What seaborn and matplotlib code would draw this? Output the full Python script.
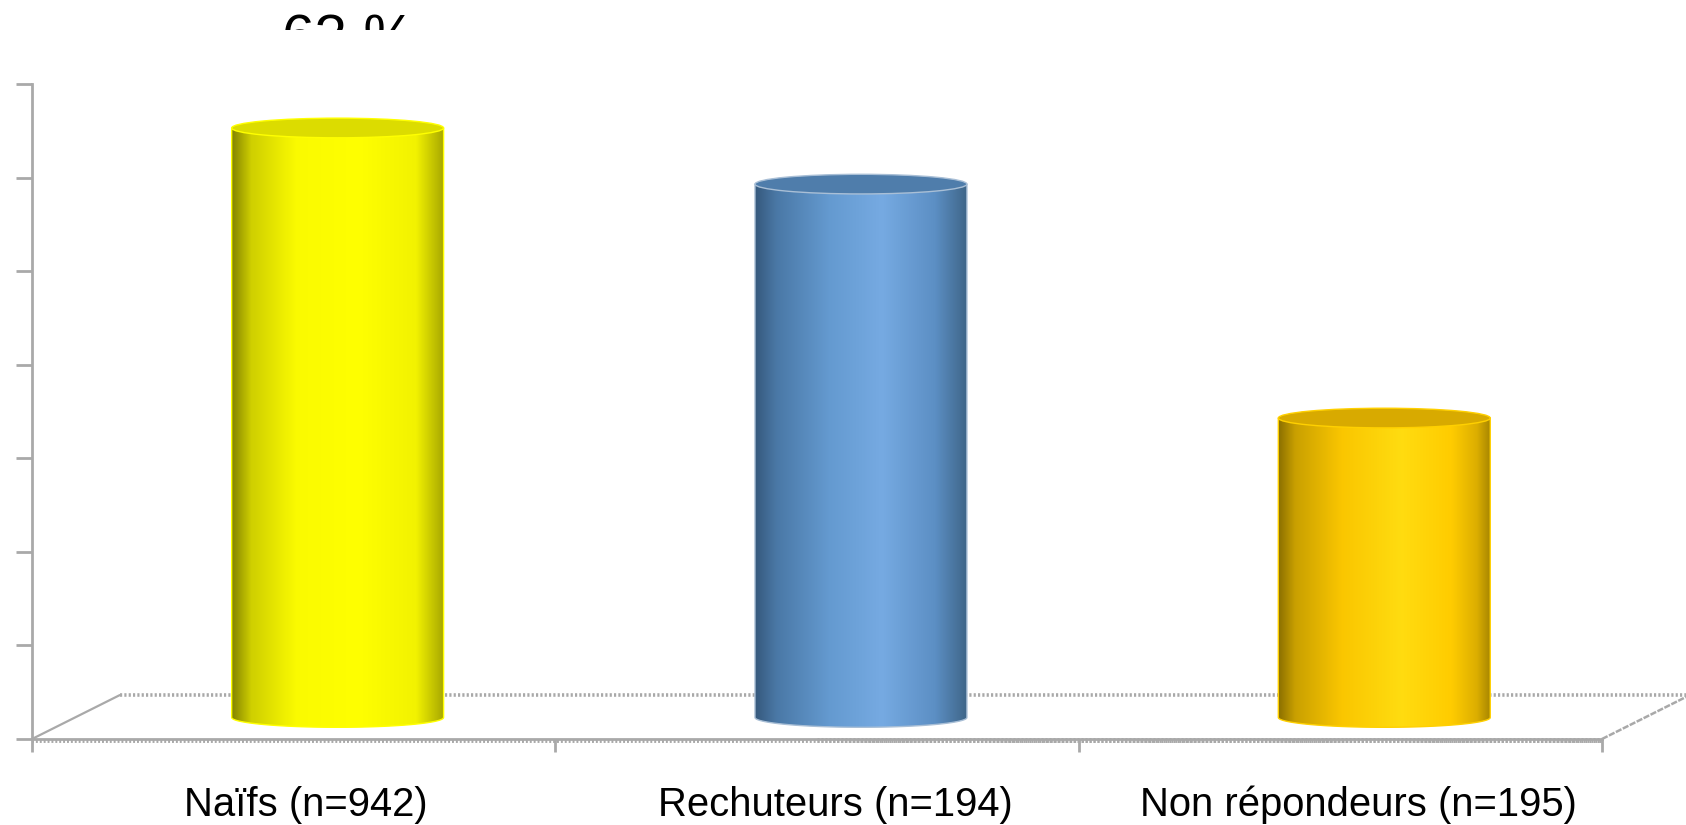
import numpy as np
import pandas as pd
import matplotlib
matplotlib.use("Agg")
import matplotlib.pyplot as plt
import seaborn as sns
from matplotlib.colors import LinearSegmentedColormap
from matplotlib.patches import Ellipse, PathPatch, Rectangle
from matplotlib.path import Path

groups = ["Naïfs (n=942)", "Rechuteurs (n=194)", "Non répondeurs (n=195)"]
percent = [63, 57, 32]
side_ramps = [
    [(0, "#858500"), (0.09, "#cfcf00"), (0.3, "#fafa00"), (0.6, "#ffff00"), (0.87, "#f2f200"), (1, "#a8a800")],
    [(0, "#36597c"), (0.1, "#4a78a6"), (0.35, "#649ad0"), (0.6, "#76aae2"), (0.85, "#5c8fc4"), (1, "#3f6689")],
    [(0, "#8a6f00"), (0.08, "#c9a000"), (0.3, "#fac600"), (0.58, "#ffdc10"), (0.82, "#ffcc00"), (0.94, "#dcae00"), (1, "#aa8800")],
]
cap_colors = ["#dcdc00", "#4f7dab", "#d8aa00"]
rim_colors = ["#ffff00", "#a9bfd6", "#ffd000"]
value_ticks = list(range(0, 80, 10))

GREY = "#a9a9a9"
FLOOR_DX, FLOOR_DY = 0.168, 4.7
BAR_DX, BAR_DY = FLOOR_DX / 2, 2.3
BAR_WIDTH = 0.405
CAP_HEIGHT = 2.1

sns.set_style("white")
plt.rcParams["font.family"] = ["Liberation Sans", "DejaVu Sans"]

W, H = 1686, 825
fig = plt.figure(figsize=(W / 100, H / 100), dpi=100)
ax = fig.add_axes([32 / W, 1 - 739 / H, (1602 - 32) / W, (739 - 84) / H])

frame = pd.DataFrame({"group": groups, "percent": percent})
sns.barplot(data=frame, x="group", y="percent", hue="group", palette=cap_colors,
            width=BAR_WIDTH, legend=False, dodge=False, ax=ax, zorder=3)

XLIM, YLIM = (-0.5, 2.5), (0, 70)

# Cylinder sides: a horizontal shading ramp clipped to the outline of each bar.
theta = np.linspace(np.pi, 2 * np.pi, 60)
for i, (bar, value) in enumerate(zip(ax.patches, percent)):
    left = bar.get_x() + BAR_DX
    bar.set_x(left)
    bar.set_y(BAR_DY)
    bar.set_visible(False)
    right = left + BAR_WIDTH
    mid = (left + right) / 2
    top = value + BAR_DY

    xs = mid + BAR_WIDTH / 2 * np.cos(theta)
    ys = BAR_DY + CAP_HEIGHT / 2 * np.sin(theta)
    outline = np.column_stack([np.r_[xs, right, left, left], np.r_[ys, top, top, ys[0]]])
    codes = [Path.MOVETO] + [Path.LINETO] * (len(outline) - 2) + [Path.CLOSEPOLY]
    shape = Path(outline, codes)

    cmap = LinearSegmentedColormap.from_list(f"side{i}", side_ramps[i])
    img = ax.imshow(np.linspace(0, 1, 256)[None, :], cmap=cmap, aspect="auto",
                    extent=(left, right, BAR_DY - CAP_HEIGHT, top), zorder=3)
    img.set_clip_path(PathPatch(shape, transform=ax.transData, fc="none", ec="none"))
    ax.add_patch(PathPatch(shape, fc="none", ec=rim_colors[i], lw=1.0, zorder=3.5))

    ax.add_patch(Ellipse((mid, top), BAR_WIDTH, CAP_HEIGHT, fc=cap_colors[i],
                         ec=rim_colors[i], lw=1.0, zorder=4))

ax.set_xlim(XLIM)
ax.set_ylim(YLIM)

# Floor of the 3D box, drawn behind the cylinders.
x0, x1 = XLIM
floor_style = dict(color=GREY, clip_on=False, zorder=1)
ax.plot([x0 + FLOOR_DX, x1 + FLOOR_DX], [FLOOR_DY, FLOOR_DY], lw=2.6,
        ls=(0, (0.6, 0.6)), **floor_style)
ax.plot([x0, x0 + FLOOR_DX], [0, FLOOR_DY], lw=1.6, **floor_style)
ax.plot([x1, x1 + FLOOR_DX], [0, FLOOR_DY], lw=1.8, ls=(0, (2.5, 0.6)), **floor_style)
ax.plot([x0, x1], [-0.22, -0.22], lw=2.8, ls=(0, (0.5, 0.5)), **floor_style)
ax.plot([1.0, x1], [-0.1, -0.1], lw=3.6, ls=(0, (0.4, 0.4)), **floor_style)

# Axes frame and ticks.
sns.despine(ax=ax, top=True, right=True)
for side in ("left", "bottom"):
    ax.spines[side].set_color(GREY)
    ax.spines[side].set_linewidth(2)
ax.set_yticks(value_ticks)
ax.set_yticklabels([])
ax.set_xticks([-0.5, 0.5, 1.5, 2.5])
ax.set_xticklabels([])
ax.tick_params(axis="y", left=True, length=11.5, width=2, color=GREY)
ax.tick_params(axis="x", bottom=True, length=9, width=2, color=GREY)
ax.set_xlabel("")
ax.set_ylabel("")

# Group names under the floor.
for name, xpix in zip(groups, [306, 835, 1358]):
    fig.text(xpix / W, 1 - 805 / H, name, ha="center", va="center",
             fontsize=28.8, color="black")

# Value label above the tallest bar; only its upper part shows in the top band.
label = ax.text(0 + BAR_DX + 0.021, percent[0] + 10, f"{percent[0]} %",
                ha="center", va="baseline", fontsize=42, color="black", clip_on=True)
label.set_clip_path(Rectangle((0, 1 - 30 / H), 1, 30 / H, transform=fig.transFigure))

fig.savefig("out.png", dpi=100)
